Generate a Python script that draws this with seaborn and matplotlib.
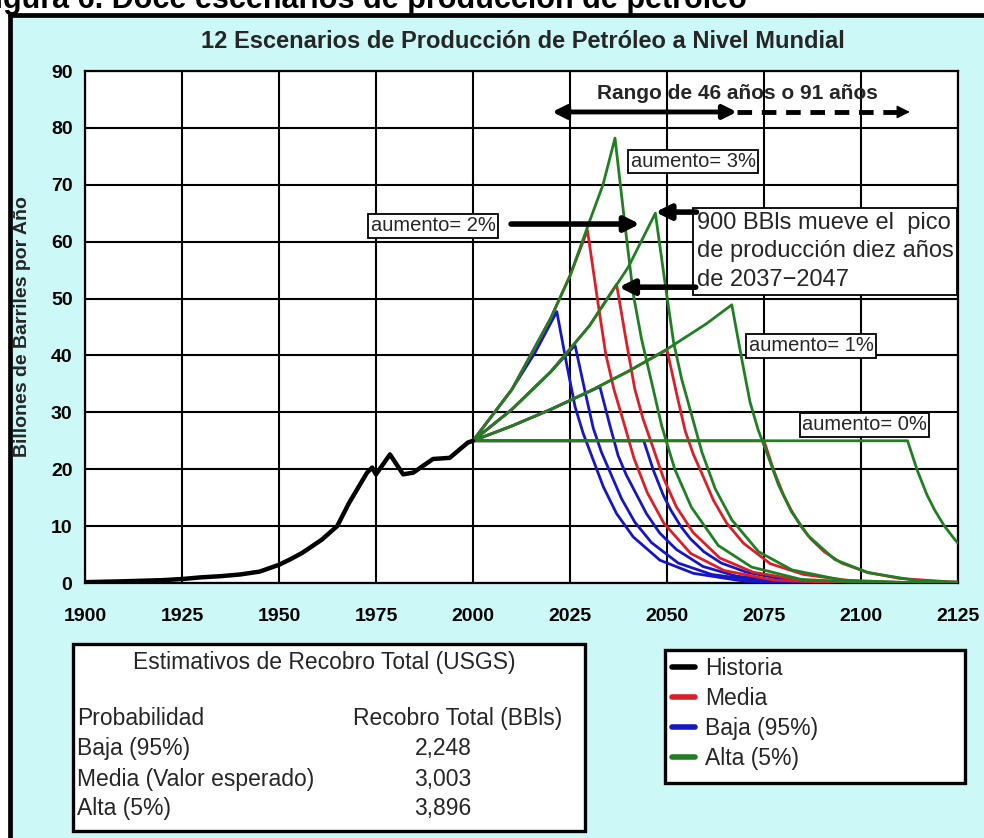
import numpy as np
import pandas as pd
import matplotlib
matplotlib.use("Agg")
import matplotlib.pyplot as plt
from matplotlib.patches import Rectangle
from matplotlib.lines import Line2D
import seaborn as sns

# ---------------- data ----------------
hist_years = [1900, 1910, 1920, 1925, 1930, 1935, 1940, 1945, 1950, 1953, 1956, 1961, 1965,
              1968, 1972.7, 1974, 1975, 1978.6, 1982, 1984.6, 1989.7, 1994, 1996.6, 1998.7, 2000]
hist_vals = [0.15, 0.3, 0.5, 0.7, 1.0, 1.2, 1.5, 2.0, 3.2, 4.2, 5.3, 7.6, 10.0,
             14.0, 19.4, 20.3, 19.1, 22.6, 19.1, 19.4, 21.8, 22.0, 23.5, 24.7, 25.0]

# Baja (95%)
b3_yr = [2000, 2010, 2016, 2021.6, 2024.1, 2026.3, 2028.4, 2031, 2033.6, 2037, 2041.3, 2048.2, 2056.8, 2070, 2090, 2125]
b3_v = [25, 34.0, 40.5, 47.7, 38.6, 31.0, 26.3, 21.6, 16.9, 12.2, 8.1, 4.0, 1.7, 0.3, 0.05, 0.0]
b2_yr = [2000, 2010, 2020, 2026.3, 2028.8, 2031, 2033.1, 2035.7, 2038.3, 2041.7, 2046, 2052.9, 2061.5, 2074.3, 2091.3, 2125]
b2_v = [25, 30.5, 37.1, 41.8, 33.9, 27.2, 23.0, 18.9, 14.8, 10.7, 7.1, 3.5, 1.5, 0.33, 0.04, 0.0]
b1_yr = [2000, 2010, 2020, 2032.7, 2035.2, 2037.4, 2039.5, 2042.1, 2044.7, 2048.1, 2052.4, 2059.3, 2067.9, 2080.7, 2097.7, 2125]
b1_v = [25, 27.6, 30.5, 34.5, 27.9, 22.4, 19.0, 15.6, 12.2, 8.8, 5.9, 2.9, 1.2, 0.28, 0.03, 0.0]
b0_yr = [2000, 2044, 2046.5, 2049, 2051, 2053.5, 2056, 2059.5, 2064, 2070.5, 2079, 2092, 2109, 2125]
b0_v = [25, 25, 19.8, 15.5, 12.8, 10.0, 7.8, 5.5, 3.5, 1.9, 0.8, 0.2, 0.04, 0.0]

# Media
m3_yr = [2000, 2010, 2020, 2025, 2029.5, 2032, 2034.2, 2036.3, 2038.9, 2041.5, 2044.9, 2049.2, 2056.1, 2064.7, 2077.5, 2094.5, 2125]
m3_v = [25, 34.0, 46.5, 54.0, 62.0, 50.2, 40.3, 34.1, 28.1, 21.9, 15.9, 10.5, 5.2, 2.2, 0.5, 0.06, 0.0]
m2_yr = [2000, 2010, 2020, 2030, 2037, 2039.5, 2041.7, 2043.8, 2046.4, 2049, 2052.4, 2056.7, 2063.6, 2072.2, 2085, 2102, 2125]
m2_v = [25, 30.5, 37.1, 45.2, 52.5, 42.5, 34.1, 28.9, 23.8, 18.6, 13.4, 8.9, 4.4, 1.9, 0.42, 0.05, 0.0]
m1_yr = [2000, 2010, 2020, 2030, 2040, 2050, 2052.5, 2054.7, 2056.8, 2059.4, 2062, 2065.4, 2069.7, 2076.6, 2085.2, 2098, 2115, 2125]
m1_v = [25, 27.6, 30.5, 33.7, 37.2, 41.0, 33.2, 26.7, 22.6, 18.6, 14.5, 10.5, 7.0, 3.4, 1.5, 0.33, 0.04, 0.01]
m0_yr = [2000, 2075, 2077.5, 2080, 2082, 2084.5, 2087, 2090.5, 2095, 2101.5, 2110, 2123, 2125]
m0_v = [25, 25, 19.8, 15.5, 12.8, 10.0, 7.8, 5.5, 3.5, 1.9, 0.8, 0.2, 0.17]

# Alta (5%)
a3_yr = [2000, 2010, 2020, 2025, 2030, 2033.5, 2036.6, 2039.1, 2041.3, 2043.4, 2046, 2048.6, 2052, 2056.3, 2063.2, 2071.8, 2084.6, 2101.6, 2125]
a3_v = [25, 34.0, 46.5, 54.0, 63.5, 70.0, 78.2, 63.3, 50.8, 43.0, 35.4, 27.7, 20.0, 13.3, 6.6, 2.8, 0.63, 0.08, 0.01]
a2_yr = [2000, 2010, 2020, 2030, 2040, 2047, 2049.5, 2051.7, 2053.8, 2056.4, 2059, 2062.4, 2066.7, 2073.6, 2082.2, 2095, 2112, 2125]
a2_v = [25, 30.5, 37.1, 45.2, 55.5, 65.0, 52.7, 42.3, 35.8, 29.4, 23.0, 16.6, 11.1, 5.5, 2.3, 0.52, 0.07, 0.02]
a1_yr = [2000, 2010, 2020, 2030, 2040, 2050, 2060, 2066.7, 2069.2, 2071.4, 2073.5, 2076.1, 2078.7, 2082.1, 2086.4, 2093.3, 2101.9, 2114.7, 2125]
a1_v = [25, 27.6, 30.5, 33.7, 37.2, 41.1, 45.5, 48.9, 39.6, 31.8, 26.9, 22.2, 17.3, 12.5, 8.3, 4.1, 1.8, 0.39, 0.15]
a0_yr = [2000, 2112, 2114.5, 2117, 2119, 2121.5, 2124, 2125]
a0_v = [25, 25, 19.8, 15.5, 12.8, 10.0, 7.8, 7.0]

x_ticks = [1900, 1925, 1950, 1975, 2000, 2025, 2050, 2075, 2100, 2125]
y_ticks = [0, 10, 20, 30, 40, 50, 60, 70, 80, 90]

groups = ["Baja (95%)", "Media", "Alta (5%)"]
legend_labels = ["Historia", "Media", "Baja (95%)", "Alta (5%)"]
colors = {"Historia": "#000000", "Media": "#dc1e28", "Baja (95%)": "#1616c4", "Alta (5%)": "#1f7f22"}

table_title = "Estimativos de Recobro Total (USGS)"
table_rows = ["Baja (95%)", "Media (Valor esperado)", "Alta (5%)"]
table_vals = ["2,248", "3,003", "3,896"]

scenarios = [
    ("Baja (95%)", "b3", b3_yr, b3_v), ("Baja (95%)", "b2", b2_yr, b2_v),
    ("Baja (95%)", "b1", b1_yr, b1_v), ("Baja (95%)", "b0", b0_yr, b0_v),
    ("Media", "m3", m3_yr, m3_v), ("Media", "m2", m2_yr, m2_v),
    ("Media", "m1", m1_yr, m1_v), ("Media", "m0", m0_yr, m0_v),
    ("Alta (5%)", "a3", a3_yr, a3_v), ("Alta (5%)", "a2", a2_yr, a2_v),
    ("Alta (5%)", "a1", a1_yr, a1_v), ("Alta (5%)", "a0", a0_yr, a0_v),
]
rows = []
for grp, sid, yrs, vals in scenarios:
    for y_, v_ in zip(yrs, vals):
        rows.append({"anio": y_, "valor": v_, "grupo": grp, "escenario": sid})
df_s = pd.DataFrame(rows)
df_h = pd.DataFrame({"anio": hist_years, "valor": hist_vals})

# ---------------- figure ----------------
sns.set_theme(style="white")
plt.rcParams["font.family"] = ["Liberation Sans", "DejaVu Sans"]

W, H = 984, 838
fig = plt.figure(figsize=(W / 100, H / 100), dpi=100)
fig.patch.set_facecolor("white")

def fx(px):
    return px / W

def fy(py):
    return 1 - py / H

CYAN = "#cdf8f8"
fig.patches.append(Rectangle((fx(10), 0), 1, fy(15), transform=fig.transFigure,
                             facecolor=CYAN, edgecolor="none", zorder=-10))
fig.lines.append(Line2D([fx(10), fx(10)], [0, fy(15)], transform=fig.transFigure,
                        color="black", lw=3.4))
fig.lines.append(Line2D([fx(10), 1], [fy(15), fy(15)], transform=fig.transFigure,
                        color="black", lw=3.4))

# caption strip at the very top (cut by the page edge, as in the original scan)
fig.text(fx(-24), fy(8), "Figura 6. Doce escenarios de producción de petróleo",
         fontsize=22, fontweight="bold", va="baseline", ha="left", color="black")

ax = fig.add_axes([fx(85), fy(583), (958 - 85) / W, (583 - 71) / H])
ax.set_facecolor("white")

sns.lineplot(data=df_h, x="anio", y="valor", color="black", lw=3.2, ax=ax,
             estimator=None, sort=False, legend=False, zorder=4)
sns.lineplot(data=df_s, x="anio", y="valor", hue="grupo", hue_order=groups,
             units="escenario", estimator=None, sort=False,
             palette={g: colors[g] for g in groups}, lw=2.0, legend=False, ax=ax, zorder=3)

ax.set_xlim(1900, 2125)
ax.set_ylim(0, 90)
ax.set_xticks(x_ticks)
ax.set_yticks(y_ticks)
ax.set_xticklabels([str(t) for t in x_ticks], fontweight="bold", fontsize=14)
ax.set_yticklabels([str(t) for t in y_ticks], fontweight="bold", fontsize=14)
ax.grid(True, color="black", lw=1.5)
ax.set_axisbelow(True)
for s in ax.spines.values():
    s.set_color("black")
    s.set_linewidth(1.6)
ax.tick_params(axis="both", direction="out", length=6, width=1.5, colors="black", pad=3)
ax.tick_params(axis="x", pad=12)
ax.set_xlabel("")
ax.set_ylabel("Billones de Barriles por Año", fontsize=14, fontweight="bold")
ax.yaxis.set_label_coords(-(85 - 31) / 873, 0.5)

fig.text(fx(523), fy(42), "12 Escenarios de Producción de Petróleo a Nivel Mundial",
         ha="center", va="center", fontsize=17, fontweight="bold")

# ---------------- annotations ----------------
ax.text(2068.2, 86.1, "Rango de 46 años o 91 años", ha="center", va="center",
        fontsize=15, fontweight="bold", zorder=6)
ax.annotate("", xy=(2068.0, 82.8), xytext=(2020.4, 82.8),
            arrowprops=dict(arrowstyle="<|-|>", lw=3.5, color="black",
                            mutation_scale=20, shrinkA=0, shrinkB=0), zorder=6,
            annotation_clip=False)
ax.plot([2068.0, 2109.5], [82.8, 82.8], color="black", lw=3.5, ls=(0, (3, 2)), zorder=6)
ax.annotate("", xy=(2112.6, 82.8), xytext=(2108.0, 82.8),
            arrowprops=dict(arrowstyle="-|>", lw=1, color="black",
                            mutation_scale=20, shrinkA=0, shrinkB=0), zorder=6)

box = dict(boxstyle="square,pad=0.12", facecolor="white", edgecolor="black", lw=1.3)
ax.text(2040.7, 74.1, "aumento= 3%", ha="left", va="center", fontsize=14.5, bbox=box, zorder=7)
ax.text(1973.6, 62.8, "aumento= 2%", ha="left", va="center", fontsize=14.5, bbox=box, zorder=7)
ax.text(2071.1, 41.7, "aumento= 1%", ha="left", va="center", fontsize=14.5, bbox=box, zorder=7)
ax.text(2084.8, 27.8, "aumento= 0%", ha="left", va="center", fontsize=14.5, bbox=box, zorder=7)
ax.text(2057.7, 65.3, "900 BBls mueve el  pico\nde producción diez años\nde 2037\u22122047",
        ha="left", va="top", fontsize=17, linespacing=1.4,
        bbox=dict(boxstyle="square,pad=0.15", facecolor="white", edgecolor="black", lw=1.3),
        zorder=7)

arrow = dict(arrowstyle="-|>", lw=4, color="black", mutation_scale=22, shrinkA=0, shrinkB=0)
ax.annotate("", xy=(2043.0, 63.1), xytext=(2009.8, 63.1), arrowprops=arrow, zorder=8)
ax.annotate("", xy=(2047.0, 65.2), xytext=(2057.6, 65.2), arrowprops=arrow, zorder=8)
ax.annotate("", xy=(2037.6, 52.0), xytext=(2057.4, 52.0), arrowprops=arrow, zorder=8)

# ---------------- table box ----------------
fig.patches.append(Rectangle((fx(73), fy(831)), (585 - 73) / W, (831 - 644) / H,
                             transform=fig.transFigure, facecolor="white",
                             edgecolor="black", lw=2.4, zorder=1))
fs_t = 16.5
fig.text(fx(324), fy(662), table_title, ha="center", va="center", fontsize=fs_t)
fig.text(fx(77), fy(718), "Probabilidad", ha="left", va="center", fontsize=fs_t)
fig.text(fx(353), fy(718), "Recobro Total (BBls)", ha="left", va="center", fontsize=fs_t)
for i, (lab, val) in enumerate(zip(table_rows, table_vals)):
    yy = [748, 779, 808][i]
    fig.text(fx(77), fy(yy), lab, ha="left", va="center", fontsize=fs_t)
    fig.text(fx(443), fy(yy), val, ha="center", va="center", fontsize=fs_t)

# ---------------- legend box ----------------
fig.patches.append(Rectangle((fx(665), fy(783)), (965 - 665) / W, (783 - 650) / H,
                             transform=fig.transFigure, facecolor="white",
                             edgecolor="black", lw=2.4, zorder=1))
handles = [Line2D([0], [0], color=colors[l], lw=4) for l in legend_labels]
leg = fig.legend(handles, legend_labels, loc="upper left",
                 bbox_to_anchor=(fx(672), fy(657)), frameon=False, fontsize=16.5,
                 handlelength=1.0, handletextpad=0.45, labelspacing=0.3,
                 borderaxespad=0, borderpad=0)

fig.savefig("out.png", dpi=100)
